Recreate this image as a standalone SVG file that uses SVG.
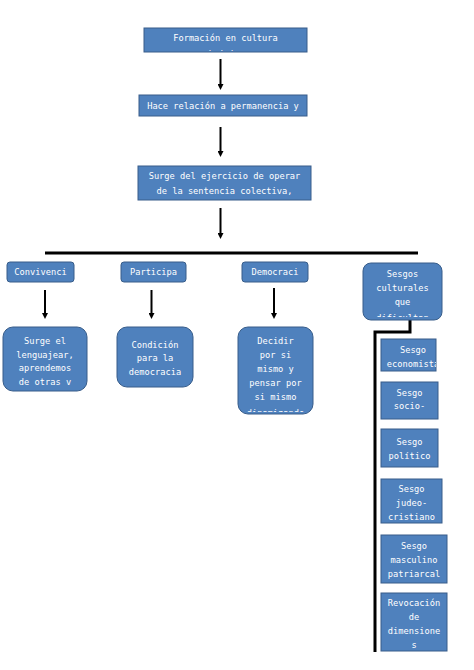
<svg xmlns="http://www.w3.org/2000/svg" width="474" height="670" viewBox="0 0 474 670">
<style>
.b{fill:#4f81bd;stroke:#385d8a;stroke-width:1}
.t{font-family:"DejaVu Sans Mono",monospace;font-size:8.7px;fill:#ffffff;text-anchor:middle}
.c{stroke:#000;stroke-width:2;fill:none}
.k{stroke:#000;stroke-width:3;fill:none}
</style>
<defs>
<marker id="ah" viewBox="0 0 6 6" refX="3" refY="3" markerWidth="3" markerHeight="3" orient="auto"><path d="M0,0 L6,3 L0,6 Z" fill="#000"/></marker>
<clipPath id="c1"><rect x="144" y="28" width="163" height="23"/></clipPath>
<clipPath id="c2"><rect x="363" y="263" width="79" height="54"/></clipPath>
<clipPath id="c3"><rect x="238" y="327" width="75" height="85"/></clipPath>
<clipPath id="c4"><rect x="381" y="339" width="55" height="32"/></clipPath>
</defs>
<rect width="474" height="670" fill="#fff"/>
<g id="connectors">
<line class="c" x1="220.5" y1="59" x2="220.5" y2="87" marker-end="url(#ah)"/>
<line class="c" x1="220.5" y1="127" x2="220.5" y2="154" marker-end="url(#ah)"/>
<line class="c" x1="220.5" y1="208" x2="220.5" y2="236" marker-end="url(#ah)"/>
<line class="k" x1="45" y1="253" x2="418" y2="253"/>
<line class="c" x1="45" y1="290" x2="45" y2="316" marker-end="url(#ah)"/>
<line class="c" x1="151.5" y1="290" x2="151.5" y2="316" marker-end="url(#ah)"/>
<line class="c" x1="274" y1="288" x2="274" y2="316" marker-end="url(#ah)"/>
<polyline class="k" points="410,320 410,332 375,332 375,652"/>
</g>
<g id="n1"><rect class="b" x="144" y="28" width="163" height="24"/><g clip-path="url(#c1)"><text class="t" x="225.5" y="41">Formación en cultura</text><text class="t" x="225.5" y="56.5">ciudadana</text></g></g>
<g id="n2"><rect class="b" x="139" y="95" width="168" height="21"/><text class="t" x="223" y="108.5">Hace relación a permanencia y</text></g>
<g id="n3"><rect class="b" x="138" y="166" width="173" height="34"/><text class="t" x="224.5" y="179">Surge del ejercicio de operar</text><text class="t" x="224.5" y="194">de la sentencia colectiva,</text></g>
<g id="n4"><rect class="b" x="7" y="262" width="67" height="20" rx="3"/><text class="t" x="40.5" y="275">Convivenci</text></g>
<g id="n5"><rect class="b" x="121" y="262" width="65" height="20" rx="3"/><text class="t" x="153.5" y="275">Participa</text></g>
<g id="n6"><rect class="b" x="242" y="262" width="66" height="20" rx="3"/><text class="t" x="275" y="275">Democraci</text></g>
<g id="n7"><rect class="b" x="363" y="263" width="79" height="57" rx="8"/><g clip-path="url(#c2)"><text class="t" x="402.5" y="277">Sesgos</text><text class="t" x="402.5" y="291">culturales</text><text class="t" x="402.5" y="305">que</text><text class="t" x="402.5" y="320.5">dificultan</text></g></g>
<g id="n8"><rect class="b" x="3" y="327" width="84" height="64" rx="10"/><text class="t" x="45" y="344">Surge el</text><text class="t" x="45" y="357.5">lenguajear,</text><text class="t" x="45" y="371">aprendemos</text><text class="t" x="45" y="384.5">de otras v</text></g>
<g id="n9"><rect class="b" x="117" y="327" width="76" height="60" rx="10"/><text class="t" x="155" y="347.5">Condición</text><text class="t" x="155" y="361">para la</text><text class="t" x="155" y="374.5">democracia</text></g>
<g id="n10"><rect class="b" x="238" y="327" width="75" height="87" rx="10"/><g clip-path="url(#c3)"><text class="t" x="275.5" y="344">Decidir</text><text class="t" x="275.5" y="358">por si</text><text class="t" x="275.5" y="372">mismo y</text><text class="t" x="275.5" y="386">pensar por</text><text class="t" x="275.5" y="400">si mismo</text><text class="t" x="275.5" y="415.5">dinamizando</text></g></g>
<g id="n11"><rect class="b" x="381" y="339" width="55" height="32"/><g clip-path="url(#c4)"><text class="t" x="413" y="353">Sesgo</text><text class="t" x="413" y="366.5">economista</text></g></g>
<g id="n12"><rect class="b" x="381" y="382" width="57" height="37"/><text class="t" x="409.5" y="395.5">Sesgo</text><text class="t" x="409.5" y="409">socio-</text></g>
<g id="n13"><rect class="b" x="381" y="429" width="57" height="38"/><text class="t" x="409.5" y="445">Sesgo</text><text class="t" x="409.5" y="459">político</text></g>
<g id="n14"><rect class="b" x="381" y="479" width="61" height="44"/><text class="t" x="411.5" y="492">Sesgo</text><text class="t" x="411.5" y="506">judeo-</text><text class="t" x="411.5" y="519.5">cristiano</text></g>
<g id="n15"><rect class="b" x="381" y="535" width="66" height="48"/><text class="t" x="414" y="549">Sesgo</text><text class="t" x="414" y="563">masculino</text><text class="t" x="414" y="576.5">patriarcal</text></g>
<g id="n16"><rect class="b" x="381" y="593" width="66" height="58"/><text class="t" x="414" y="606">Revocación</text><text class="t" x="414" y="620">de</text><text class="t" x="414" y="633.5">dimensione</text><text class="t" x="414" y="647.5">s</text></g>
</svg>
